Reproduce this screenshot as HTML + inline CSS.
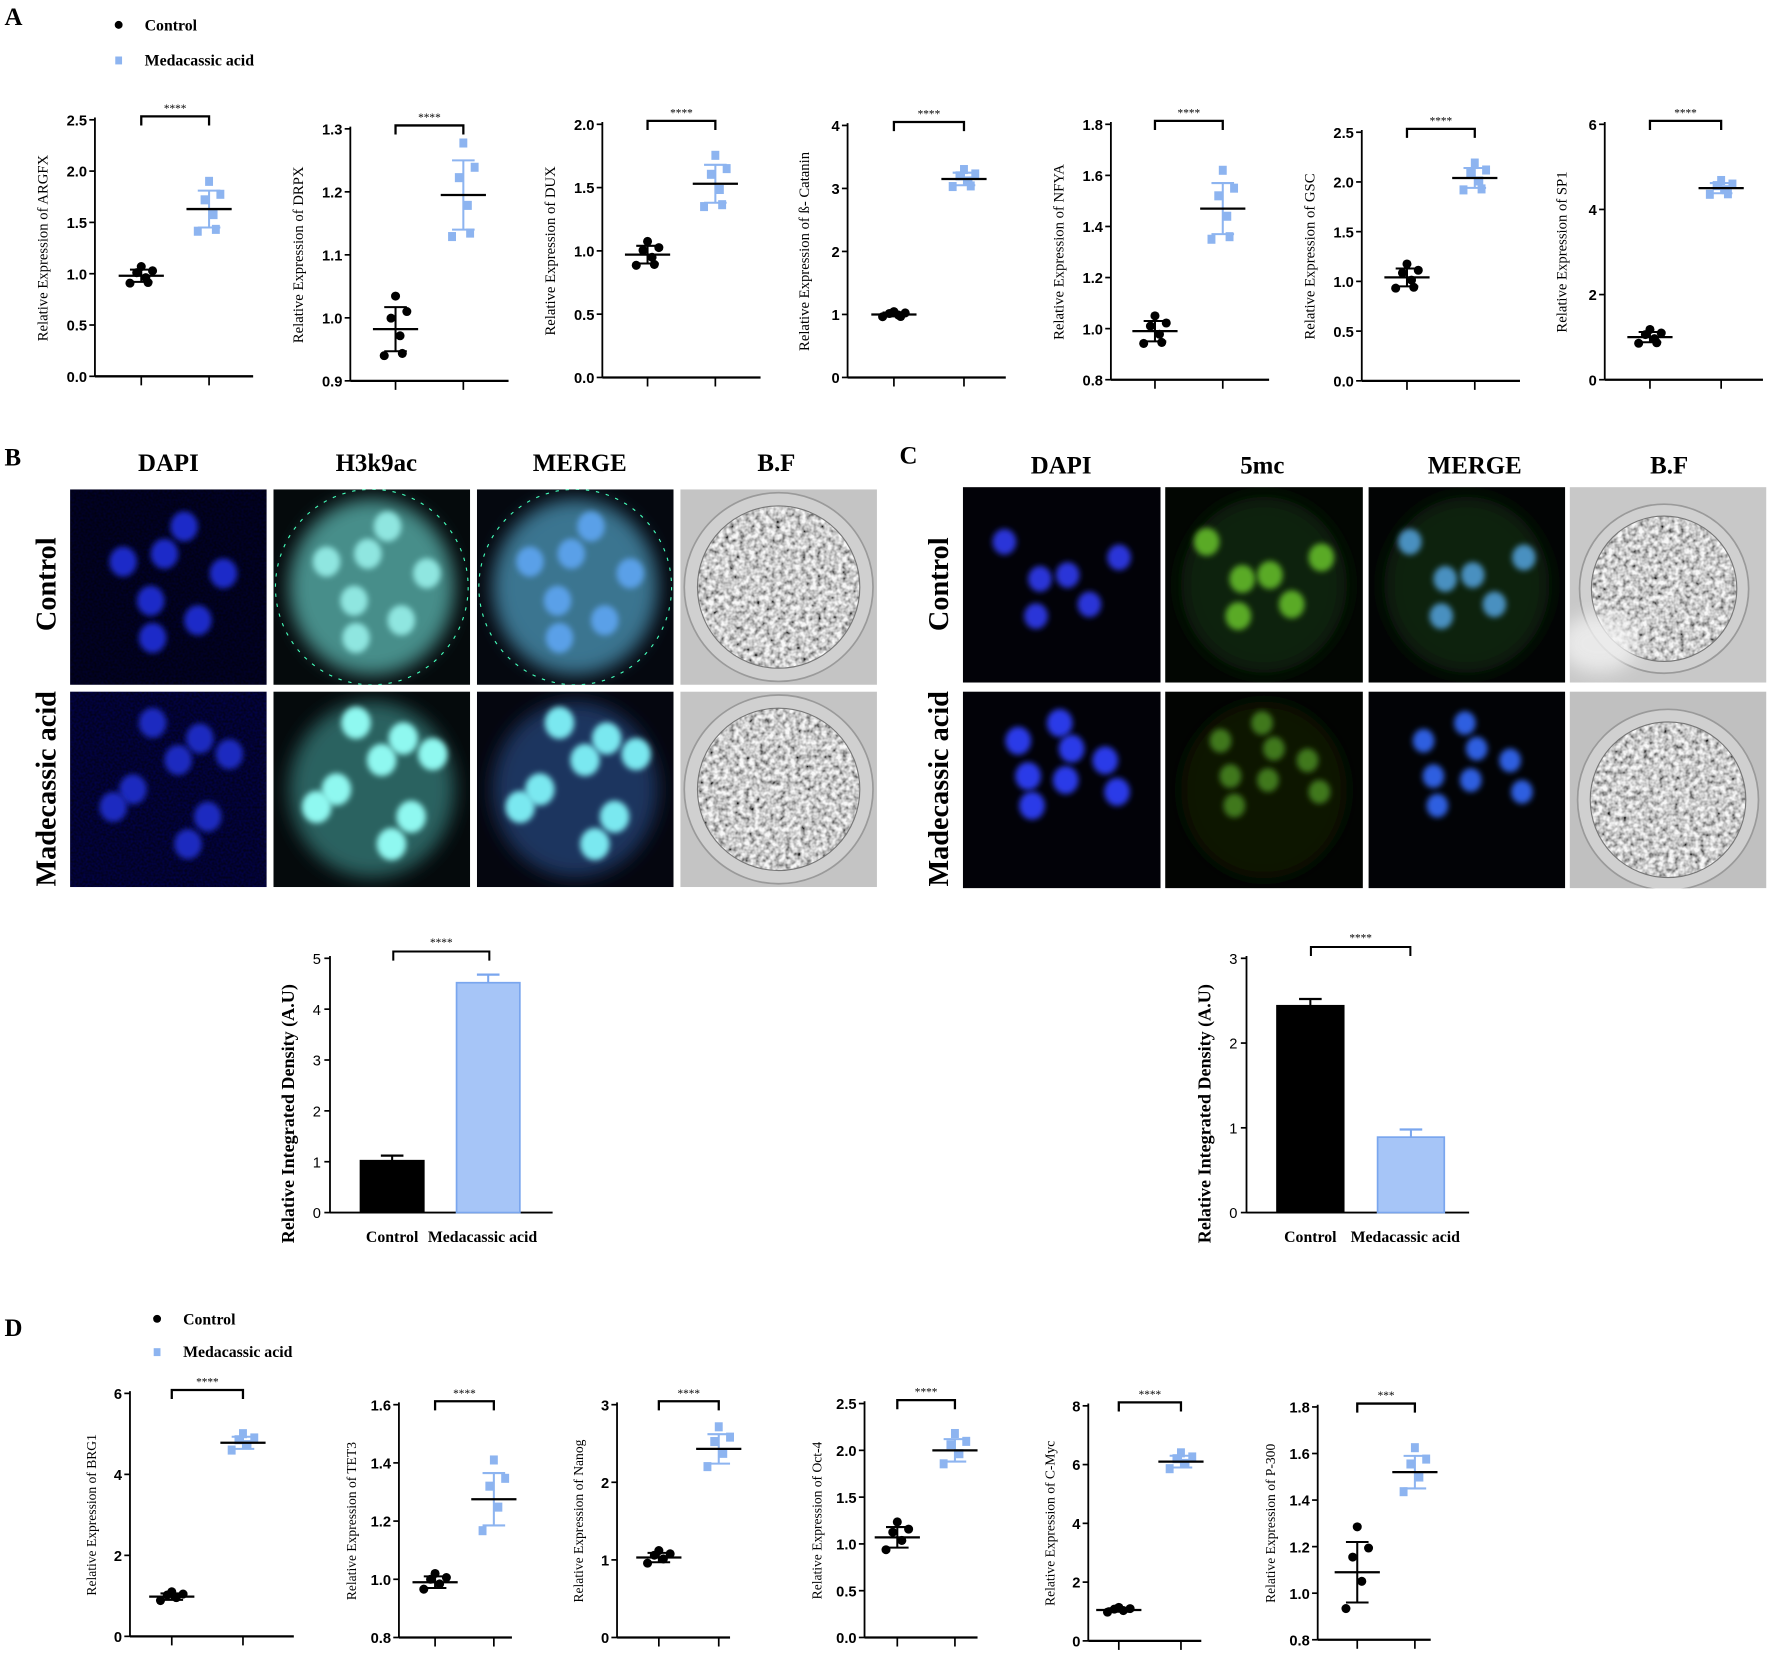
<!DOCTYPE html>
<html><head><meta charset="utf-8"><style>
html,body{margin:0;padding:0;background:#fff;}
svg{display:block;}
</style></head><body>
<svg id="s" width="1772" height="1655" viewBox="0 0 1568 1464.5" preserveAspectRatio="none" xmlns="http://www.w3.org/2000/svg"></svg>
<script>
var o=[];
var SER='font-family="Liberation Serif, serif"';
var SANS='font-family="Liberation Sans, sans-serif"';
var BLUE='#8db4f0';
o.push('<defs>'+
'<filter id="bl" x="-50%" y="-50%" width="200%" height="200%"><feGaussianBlur stdDeviation="2.5"/></filter>'+
'<filter id="bl2" x="-20%" y="-20%" width="140%" height="140%"><feGaussianBlur stdDeviation="8"/></filter>'+
'<filter id="bfn"><feTurbulence type="fractalNoise" baseFrequency="0.22" numOctaves="2" seed="4"/><feColorMatrix type="matrix" values="1.8 0 0 0 -0.3  1.8 0 0 0 -0.3  1.8 0 0 0 -0.3  0 0 0 0 1"/></filter>'+
'<filter id="dn"><feTurbulence type="fractalNoise" baseFrequency="0.5" numOctaves="1" seed="7"/><feColorMatrix type="matrix" values="0 0 0 0 0  0 0 0 0 0  0 0 0 0 1  0.6 0 0 0 -0.15"/></filter>'+
'</defs>');
o.push('<rect width="1568" height="1465" fill="#fff"/>');
function T(x,y,s,fs,extra){o.push('<text x="'+x+'" y="'+y+'" font-size="'+fs+'" '+(extra||'')+'>'+s+'</text>');}
T(4,22,'A',22,SER+' font-weight="bold"');
T(4,412,'B',22,SER+' font-weight="bold"');
T(796,410,'C',22,SER+' font-weight="bold"');
T(4,1182,'D',22,SER+' font-weight="bold"');
function legend(x,y1,y2){
 o.push('<circle cx="'+x+'" cy="'+y1+'" r="3.5" fill="#000"/>');
 o.push('<rect x="'+(x-3)+'" y="'+(y2-3)+'" width="6" height="7" fill="'+BLUE+'"/>');
 T(x+23,y1+5,'Control',14,SER+' font-weight="bold"');
 T(x+23,y2+5,'Medacassic acid',14,SER+' font-weight="bold"');
}
legend(105,22,53);legend(139,1167,1196);
function fmt(v,d){return v.toFixed(d);}
var offs=[[-10,-1.2],[-4,0.5],[0,1.5],[4,-0.3],[10,0.8],[6,-1.1]];
function scatter(c){
 var ax=c.ax,yt=c.yt,yb=c.yb;
 function Y(v){return yb-(v-c.min)/(c.max-c.min)*(yb-yt);}
 o.push('<line x1="'+ax+'" y1="'+(yt-2)+'" x2="'+ax+'" y2="'+yb+'" stroke="#000" stroke-width="1.6"/>');
 o.push('<line x1="'+ax+'" y1="'+yb+'" x2="'+(ax+c.w)+'" y2="'+yb+'" stroke="#000" stroke-width="2"/>');
 c.ticks.forEach(function(v){var y=Y(v);
  o.push('<line x1="'+(ax-5)+'" y1="'+y+'" x2="'+ax+'" y2="'+y+'" stroke="#000" stroke-width="1.5"/>');
  T(ax-7,y+5,fmt(v,c.d),13,SANS+' font-weight="bold" text-anchor="end"');});
 [c.g1,c.g2].forEach(function(g){o.push('<line x1="'+g+'" y1="'+yb+'" x2="'+g+'" y2="'+(yb+8)+'" stroke="#000" stroke-width="1.5"/>');});
 var sy=yt+c.sb;
 o.push('<path d="M'+c.g1+' '+(sy+8)+'V'+sy+'H'+c.g2+'V'+(sy+8)+'" stroke="#000" stroke-width="2" fill="none"/>');
 T((c.g1+c.g2)/2,sy-4,c.st||'****',10,SER+' text-anchor="middle"');
 var cy=(yt+yb)/2;
 T(0,0,c.t,c.fs||13,SER+' text-anchor="middle" transform="translate('+(ax-c.lx)+','+cy+') rotate(-90)"');
 [[c.g1,c.m1,c.s1,'#000',0],[c.g2,c.m2,c.s2,BLUE,1]].forEach(function(g){
  var gx=g[0];
  offs.slice(0,c.n||6).forEach(function(p){var px=gx+p[0],py=Y(g[1]+p[1]*g[2]);
   if(g[4])o.push('<rect x="'+(px-3.5)+'" y="'+(py-4)+'" width="7" height="8" fill="'+BLUE+'"/>');
   else o.push('<circle cx="'+px+'" cy="'+py+'" r="4" fill="#000"/>');});
  var m=Y(g[1]),a=Y(g[1]+g[2]),b=Y(g[1]-g[2]);
  o.push('<line x1="'+gx+'" y1="'+a+'" x2="'+gx+'" y2="'+b+'" stroke="'+g[3]+'" stroke-width="1.8"/>');
  o.push('<line x1="'+(gx-10)+'" y1="'+a+'" x2="'+(gx+10)+'" y2="'+a+'" stroke="'+g[3]+'" stroke-width="1.8"/>');
  o.push('<line x1="'+(gx-10)+'" y1="'+b+'" x2="'+(gx+10)+'" y2="'+b+'" stroke="'+g[3]+'" stroke-width="1.8"/>');
  o.push('<line x1="'+(gx-20)+'" y1="'+m+'" x2="'+(gx+20)+'" y2="'+m+'" stroke="#000" stroke-width="2"/>');
 });
}
function R(a,b,s){var r=[];for(var v=a;v<=b+1e-9;v+=s)r.push(Math.round(v*100)/100);return r;}
var A=[
 {ax:84,yt:106,yb:333,min:0,max:2.5,ticks:R(0,2.5,.5),d:1,t:'Relative Expression of  ARGFX',g1:125,g2:185,m1:.98,s1:.06,m2:1.63,s2:.18},
 {ax:310,yt:114,yb:337,min:.9,max:1.3,ticks:R(.9,1.3,.1),d:1,t:'Relative Expression of DRPX',g1:350,g2:410,m1:.982,s1:.035,m2:1.195,s2:.055},
 {ax:533,yt:110,yb:334,min:0,max:2,ticks:R(0,2,.5),d:1,t:'Relative Expression of DUX',g1:573,g2:633,m1:.97,s1:.07,m2:1.53,s2:.15},
 {ax:750,yt:111,yb:334,min:0,max:4,ticks:R(0,4,1),d:0,t:'Relative Expression of ß- Catanin',g1:791,g2:853,m1:1.0,s1:.03,m2:3.15,s2:.1},
 {ax:983,yt:110,yb:336,min:.8,max:1.8,ticks:R(.8,1.8,.2),d:1,t:'Relative Expression of NFYA',g1:1022,g2:1082,m1:.99,s1:.04,m2:1.47,s2:.1},
 {ax:1205,yt:117,yb:337,min:0,max:2.5,ticks:R(0,2.5,.5),d:1,t:'Relative Expression of GSC',g1:1245,g2:1305,m1:1.04,s1:.09,m2:2.04,s2:.1},
 {ax:1420,yt:110,yb:336,min:0,max:6,ticks:R(0,6,2),d:0,t:'Relative Expression of SP1',g1:1460,g2:1523,m1:1.0,s1:.12,m2:4.5,s2:.12}
];
A.forEach(function(c){c.w=140;c.sb=-3;c.lx=c.d?42:34;scatter(c);});
var D=[
 {ax:115,yt:1233,yb:1448,min:0,max:6,ticks:R(0,6,2),d:0,t:'Relative Expression of BRG1',g1:152,g2:215,m1:.98,s1:.08,m2:4.78,s2:.15,w:145},
 {ax:353,yt:1243,yb:1449,min:.8,max:1.6,ticks:R(.8,1.6,.2),d:1,t:'Relative Expression of TET3',g1:385,g2:437,m1:.99,s1:.02,m2:1.275,s2:.09},
 {ax:546,yt:1243,yb:1449,min:0,max:3,ticks:R(0,3,1),d:0,t:'Relative Expression of Nanog',g1:583,g2:636,m1:1.03,s1:.06,m2:2.43,s2:.19},
 {ax:765,yt:1242,yb:1449,min:0,max:2.5,ticks:R(0,2.5,.5),d:1,t:'Relative Expression of Oct-4',g1:794,g2:845,m1:1.07,s1:.11,m2:2.0,s2:.12},
 {ax:963,yt:1244,yb:1452,min:0,max:8,ticks:R(0,8,2),d:0,t:'Relative Expression of C-Myc',g1:990,g2:1045,m1:1.05,s1:.06,m2:6.1,s2:.2},
 {ax:1166,yt:1245,yb:1451,min:.8,max:1.8,ticks:R(.8,1.8,.2),d:1,t:'Relative Expression of P-300',g1:1201,g2:1252,m1:1.09,s1:.13,m2:1.52,s2:.07,st:'***'}
];
D.forEach(function(c){c.w=c.w||100;c.sb=-3;c.lx=c.d?38:30;c.fs=12;c.n=5;scatter(c);});
function bars(c){
 var ax=c.ax,yt=c.yt,yb=c.yb;function Y(v){return yb-v/c.max*(yb-yt);}
 o.push('<line x1="'+ax+'" y1="'+(yt-2)+'" x2="'+ax+'" y2="'+yb+'" stroke="#000" stroke-width="1.6"/>');
 o.push('<line x1="'+ax+'" y1="'+yb+'" x2="'+(ax+197)+'" y2="'+yb+'" stroke="#000" stroke-width="1.6"/>');
 c.ticks.forEach(function(v){var y=Y(v);o.push('<line x1="'+(ax-5)+'" y1="'+y+'" x2="'+ax+'" y2="'+y+'" stroke="#000" stroke-width="1.5"/>');
  T(ax-8,y+5,v,13,SANS+' text-anchor="end"');});
 c.b.forEach(function(b,i){var x=b[0],w=b[1],top=Y(b[2]),e=Y(b[3]),cx=x+w/2;
  o.push('<line x1="'+cx+'" y1="'+top+'" x2="'+cx+'" y2="'+e+'" stroke="'+b[4]+'" stroke-width="1.8"/><line x1="'+(cx-10)+'" y1="'+e+'" x2="'+(cx+10)+'" y2="'+e+'" stroke="'+b[4]+'" stroke-width="2"/>');
  o.push('<rect x="'+x+'" y="'+top+'" width="'+w+'" height="'+(yb-top)+'" fill="'+b[5]+'" stroke="'+b[4]+'" stroke-width="1.5"/>');
 });
 var sy=c.sy;o.push('<path d="M'+c.s1+' '+(sy+8)+'V'+sy+'H'+c.s2+'V'+(sy+8)+'" stroke="#000" stroke-width="1.8" fill="none"/>');
 T((c.s1+c.s2)/2,sy-5,'****',10,SER+' text-anchor="middle"');
 T(c.b[0][0]+c.b[0][1]/2,yb+26,'Control',14,SER+' font-weight="bold" text-anchor="middle"');
 T(c.b[1][0]+c.b[1][1]/2-5,yb+26,'Medacassic acid',14,SER+' font-weight="bold" text-anchor="middle"');
 T(0,0,'Relative Integrated Density (A.U)',16,SER+' font-weight="bold" text-anchor="middle" transform="translate('+(ax-32)+','+((yt+yb)/2+25)+') rotate(-90)"');
}
bars({ax:292,yt:848,yb:1073,max:5,ticks:[0,1,2,3,4,5],b:[[319,56,1.02,1.12,'#000','#000'],[404,56,4.52,4.68,'#7aa6ee','#a6c5f7']],sy:842,s1:348,s2:433});
bars({ax:1103,yt:848,yb:1073,max:3,ticks:[0,1,2,3],b:[[1130,59,2.44,2.52,'#000','#000'],[1219,59,0.89,0.98,'#7aa6ee','#a6c5f7']],sy:838,s1:1160,s2:1248});
var id=0;
function img(x,y,w,h,type,nuc,opt){
 id++;var cid='c'+id;
 o.push('<clipPath id="'+cid+'"><rect x="'+x+'" y="'+y+'" width="'+w+'" height="'+h+'"/></clipPath><g clip-path="url(#'+cid+')">');
 if(type=='bf'){
  o.push('<rect x="'+x+'" y="'+y+'" width="'+w+'" height="'+h+'" fill="'+(opt.bg||'#c4c4c4')+'"/>');
  var cx=x+w*(opt.cx||.5),cy=y+h*(opt.cy||.5),r=w*(opt.r||.48);
  o.push('<circle cx="'+cx+'" cy="'+cy+'" r="'+r+'" fill="#d0d0d0" stroke="#9a9a9a" stroke-width="1.5"/>');
  o.push('<clipPath id="'+cid+'b"><circle cx="'+cx+'" cy="'+cy+'" r="'+(r*0.86)+'"/></clipPath>');
  o.push('<rect x="'+x+'" y="'+y+'" width="'+w+'" height="'+h+'" filter="url(#bfn)" clip-path="url(#'+cid+'b)" opacity="0.85"/>');
  o.push('<circle cx="'+cx+'" cy="'+cy+'" r="'+(r*0.86)+'" fill="none" stroke="#777" stroke-width="1"/>');
  if(opt.glare)o.push('<ellipse cx="'+(x+w*0.15)+'" cy="'+(y+h*0.8)+'" rx="'+(w*0.2)+'" ry="'+(h*0.15)+'" fill="#f2f2f2" opacity="0.8" filter="url(#bl2)"/>');
 } else {
  o.push('<rect x="'+x+'" y="'+y+'" width="'+w+'" height="'+h+'" fill="'+opt.bg+'"/>');
  if(opt.noise)o.push('<rect x="'+x+'" y="'+y+'" width="'+w+'" height="'+h+'" filter="url(#dn)" opacity="'+opt.noise+'"/>');
  if(opt.body)o.push('<ellipse cx="'+(x+w*.5)+'" cy="'+(y+h*.5)+'" rx="'+(w*.42)+'" ry="'+(h*.45)+'" fill="'+opt.body+'" filter="url(#bl2)"/>');
  if(opt.ring)o.push('<ellipse cx="'+(x+w*.5)+'" cy="'+(y+h*.5)+'" rx="'+(w*.49)+'" ry="'+(h*.5)+'" fill="none" stroke="'+opt.ring+'" stroke-width="1" stroke-dasharray="3 6"/>');
  nuc.forEach(function(n){o.push('<ellipse cx="'+(x+w*n[0])+'" cy="'+(y+h*n[1])+'" rx="'+(w*(opt.nr||.075))+'" ry="'+(h*(opt.nr||.075)*1.1)+'" fill="'+opt.nc+'" filter="url(#bl)"/>');});
 }
 o.push('</g>');
}
var nBC=[[.58,.19],[.27,.37],[.48,.33],[.78,.43],[.41,.57],[.65,.67],[.42,.76]];
var nBM=[[.42,.16],[.66,.24],[.55,.35],[.81,.32],[.32,.50],[.22,.59],[.70,.64],[.60,.78]];
[['DAPI',149],['H3k9ac',333],['MERGE',513],['B.F',687]].forEach(function(h){T(h[1],417,h[0],22,SER+' font-weight="bold" text-anchor="middle"');});
[['DAPI',939],['5mc',1117],['MERGE',1305],['B.F',1477]].forEach(function(h){T(h[1],419,h[0],22,SER+' font-weight="bold" text-anchor="middle"');});
T(0,0,'Control',25,SER+' font-weight="bold" text-anchor="middle" transform="translate(49,517) rotate(-90)"');
T(0,0,'Madecassic acid',25,SER+' font-weight="bold" text-anchor="middle" transform="translate(49,698) rotate(-90)"');
T(0,0,'Control',25,SER+' font-weight="bold" text-anchor="middle" transform="translate(839,517) rotate(-90)"');
T(0,0,'Madecassic acid',25,SER+' font-weight="bold" text-anchor="middle" transform="translate(839,698) rotate(-90)"');
var W=174,H=173;
img(62,433,W,H,'f',nBC,{bg:'#020212',noise:.35,nc:'#1f2cc8',nr:.07});
img(242,433,W,H,'f',nBC,{bg:'#050a0c',body:'#468e8a',ring:'#4fb',nc:'#8fe6e0',nr:.07});
img(422,433,W,H,'f',nBC,{bg:'#05080f',body:'#3a7490',ring:'#4fb',nc:'#5aa0e8',nr:.07});
img(602,433,W,H,'bf',[],{});
img(62,612,W,H,'f',nBM,{bg:'#03031e',noise:.6,nc:'#1d2bc0',nr:.07});
img(242,612,W,H,'f',nBM,{bg:'#050a0c',body:'#2a6260',nc:'#8ff8f0',nr:.075});
img(422,612,W,H,'f',nBM,{bg:'#05060f',body:'#1c355e',nc:'#7ae8f0',nr:.075});
img(602,612,W,H,'bf',[],{});
var nCC=[[.21,.28],[.39,.47],[.53,.45],[.79,.36],[.64,.60],[.37,.66]];
var nCM=[[.49,.16],[.28,.25],[.55,.29],[.33,.43],[.52,.45],[.78,.51],[.35,.58],[.72,.35]];
img(852,431,175,173,'f',nCC,{bg:'#020208',nc:'#2a36d8',nr:.06});
img(1031,431,175,173,'f',nCC,{bg:'#020602',body:'#0f240b',nc:'#5aaa28',nr:.065});
img(1211,431,174,173,'f',nCC,{bg:'#020404',body:'#0c200c',nc:'#4a90c0',nr:.06});
img(1389,431,174,173,'bf',[],{bg:'#c8c8c8',r:.43,cx:.48,cy:.52,glare:1});
img(852,612,175,174,'f',nCM,{bg:'#020208',nc:'#2a3ae8',nr:.065});
img(1031,612,175,174,'f',nCM,{bg:'#020402',body:'#081406',nc:'#40781f',nr:.055});
img(1211,612,174,174,'f',nCM,{bg:'#020306',nc:'#2f5ee0',nr:.055});
img(1389,612,174,174,'bf',[],{bg:'#c0c0c0',r:.46,cx:.5,cy:.55});
document.getElementById('s').innerHTML=o.join('');
</script>
</body></html>
